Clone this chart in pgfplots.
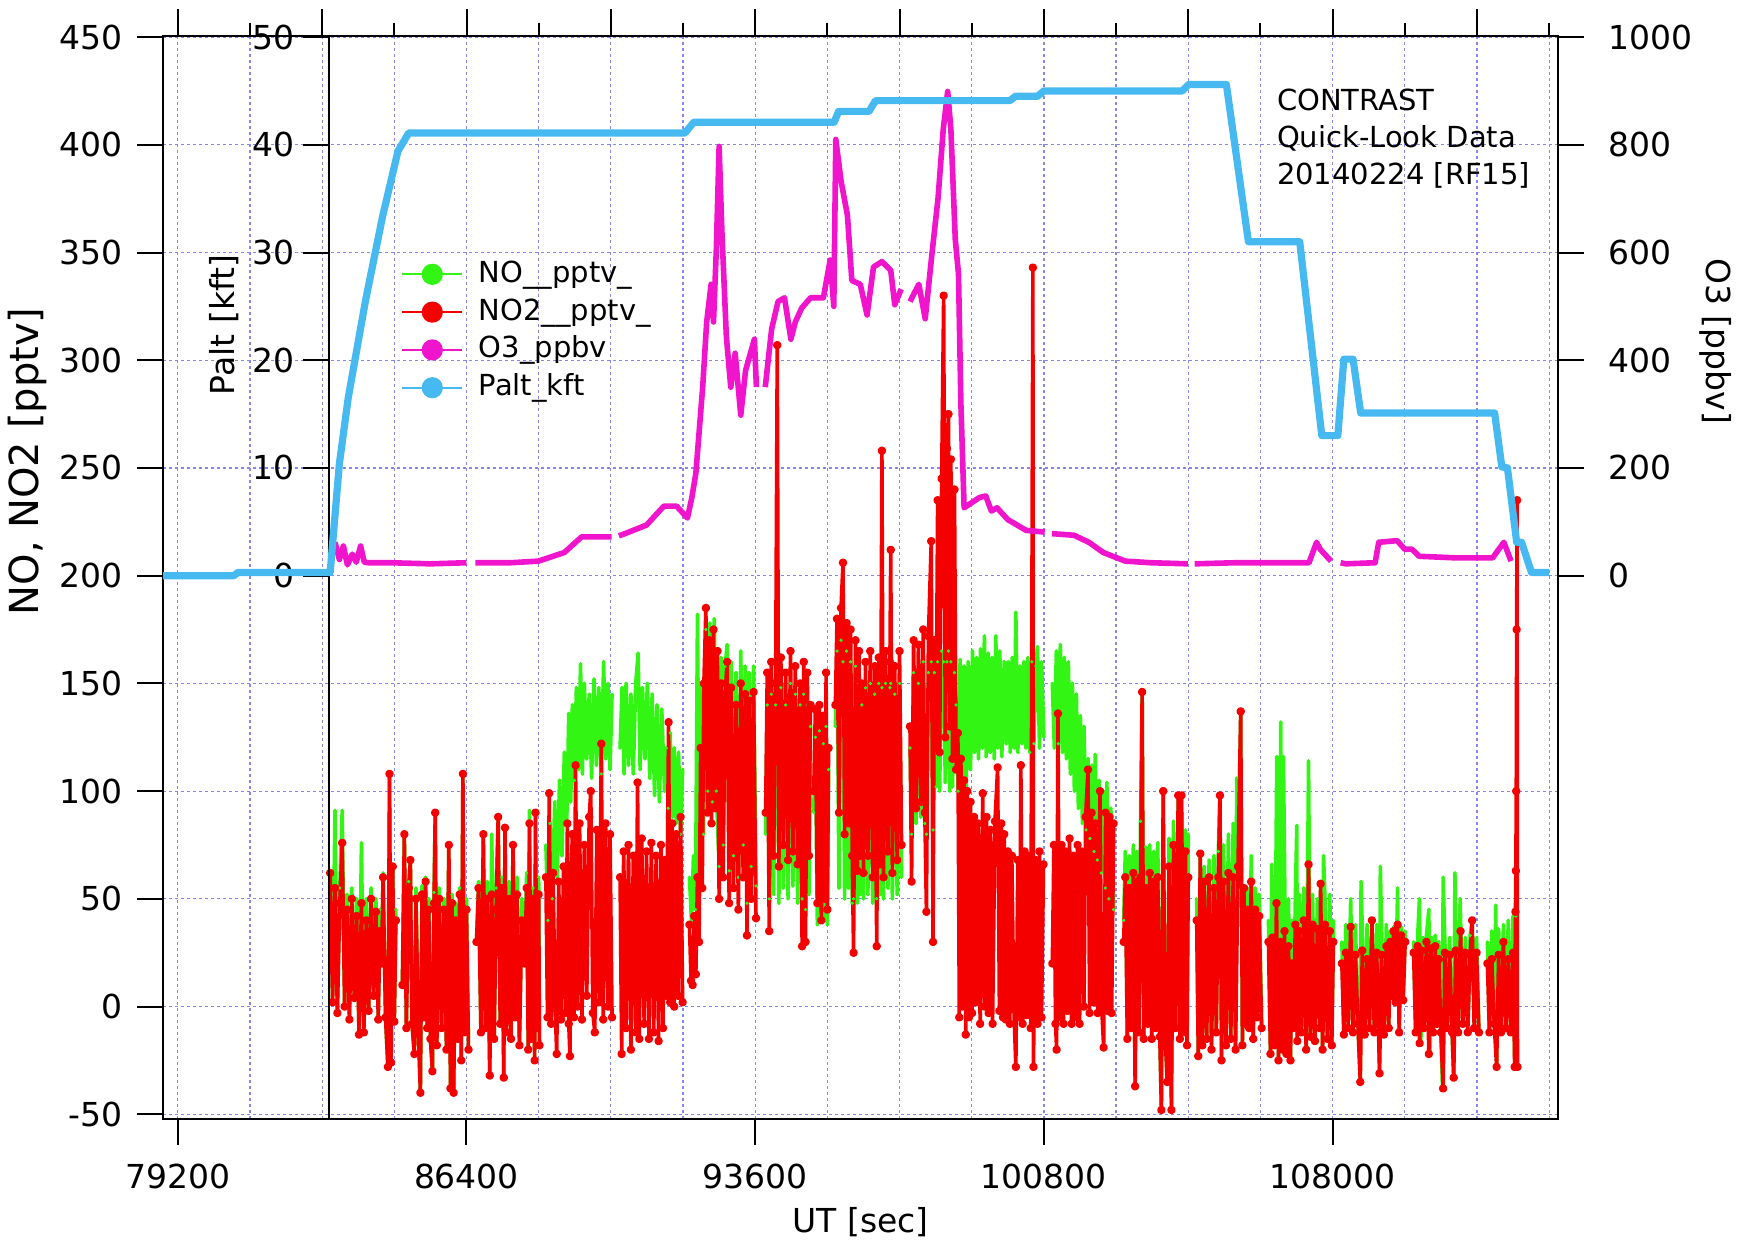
\documentclass[border=0pt]{standalone}
\usepackage{fontspec}
\setmainfont{DejaVu Sans}
\usepackage{pgfplots}
\pgfplotsset{compat=1.18}

\definecolor{nogreen}{RGB}{50,245,20}
\definecolor{notwored}{RGB}{245,0,0}
\definecolor{othree}{RGB}{240,20,205}
\definecolor{paltblue}{RGB}{70,185,240}
\definecolor{gridc}{RGB}{135,135,235}

\pgfplotsset{
  mybase/.style={
    scale only axis, width=697.5pt, height=541.3pt,
    xmin=78836, xmax=113626,
    scaled x ticks=false, scaled y ticks=false,
    tick align=outside,
    major tick length=13pt,
    tick style={black, line width=1pt},
    axis line style={black, line width=1pt},
    tick label style={font=\fontsize{16.5}{19}\selectfont},
    label style={font=\fontsize{16.5}{19}\selectfont},
    unbounded coords=jump,
  },
  dense/.style={line width=1.8pt, line join=round, mark=*, mark size=1.2pt},
  densegreen/.style={line width=1.8pt, line join=round, mark=*, mark size=0.7pt, mark options={line width=0.3pt}},
}

\begin{document}
\begin{tikzpicture}
% ---------- grid and top ticks ----------
\begin{axis}[mybase, name=G, ymin=-52, ymax=450.5,
  xtick={79200,82800,86400,90000,93600,97200,100800,104400,108000,111600},
  minor xtick={81000,84600,88200,91800,95400,99000,102600,106200,109800,113400},
  xtick pos=right, xticklabels={},
  xticklabel style={inner sep=0pt, outer sep=0pt},
  ytick={-50,0,50,100,150,200,250,300,350,400,450}, yticklabels={},
  yticklabel style={inner sep=0pt, outer sep=0pt},
  ytick style={draw=none},
  major tick length=13.3pt, minor tick length=6.7pt,
  grid=both,
  major grid style={gridc, line width=0.6pt, dash pattern=on 1.2pt off 1.8pt},
  minor grid style={gridc, line width=0.6pt, dash pattern=on 1.2pt off 1.8pt},
]
\addplot[draw=none, forget plot] coordinates {(80000,0)};
\end{axis}

% ---------- NO / NO2 (left axis) ----------
\begin{axis}[mybase, name=M, ymin=-52, ymax=450.5,
  xtick={79200,86400,93600,100800,108000},
  xticklabels={79200,86400,93600,100800,108000},
  xtick pos=left,
  ytick={-50,0,50,100,150,200,250,300,350,400,450},
  yticklabels={-50,0,50,100,150,200,250,300,350,400,450},
  ytick pos=left,
  xlabel={UT [sec]}, ylabel={NO, NO2 [pptv]},
  xlabel style={at={(axis description cs:0.5,-0.0953)}, anchor=center},
  ylabel style={at={(axis description cs:-0.0971,0.607)}, anchor=center, font=\fontsize{20}{24}\selectfont},
  xticklabel style={anchor=north, inner sep=0pt, yshift=-9.55pt},
  yticklabel style={anchor=east, inner sep=0pt, xshift=-7.15pt},
]
\addplot[nogreen, densegreen] table[header=false] {
83000 62
83060 2
83120 91
83180 -3
83240 55
83300 91
83360 0
83420 52
83480 -6
83540 55
83600 4
83660 50
83720 -13
83780 76
83840 -12
83900 50
83960 -2
84020 55
84080 5
84140 50
84200 -6
84240 45
84280 20
84320 62
84380 -5
84440 -28
84480 108
84520 -26
84560 65
84600 -7
84640 45
84700 nan
84800 10
84850 80
84900 -10
84960 58
85000 68
85040 -8
85100 -22
85140 55
85200 -12
85250 -40
85290 56
85340 -5
85380 60
85420 -10
85460 50
85500 -15
85550 -30
85590 53
85620 90
85660 -18
85720 55
85780 -10
85840 50
85900 -20
85960 75
86000 -38
86040 52
86080 -40
86130 48
86180 -15
86230 55
86270 -25
86310 108
86350 -12
86400 50
86450 -20
86550 nan
86650 30
86700 58
86760 -12
86820 80
86870 -10
86920 58
86980 -32
87030 80
87090 -15
87140 55
87190 88
87240 -8
87280 60
87330 -33
87360 83
87400 -12
87460 58
87510 -15
87560 75
87610 -5
87660 60
87720 -18
87780 50
87850 20
87900 62
87940 -20
87970 91
88010 -15
88060 55
88100 -25
88120 90
88160 -10
88200 60
88220 -18
88300 nan
88380 75
88430 40
88480 85
88540 50
88600 95
88660 60
88720 105
88780 70
88840 118
88900 85
88950 136
89000 95
89040 140
89090 105
89140 148
89190 110
89244 159
89290 108
89340 150
89400 115
89460 145
89520 106
89580 152
89640 112
89700 148
89760 108
89820 160
89870 115
89930 150
89980 110
90030 145
90100 nan
90230 120
90280 148
90330 108
90380 150
90440 112
90500 145
90560 108
90620 150
90680 164
90730 110
90790 148
90850 115
90910 150
90970 106
91030 145
91090 98
91150 140
91210 95
91270 138
91340 100
91380 120
91430 92
91480 127
91530 88
91580 120
91630 85
91690 118
91740 80
91790 110
91850 nan
91960 60
92010 40
92060 70
92110 45
92160 182
92210 60
92260 150
92310 80
92370 175
92420 100
92470 178
92530 95
92580 180
92630 100
92700 65
92750 162
92800 75
92850 158
92900 168
92950 63
93000 160
93060 70
93120 155
93180 60
93240 165
93300 75
93350 158
93395 48
93450 155
93500 65
93560 158
93620 56
93700 nan
93860 80
93900 140
93950 50
94000 145
94060 52
94110 140
94150 150
94190 48
94240 148
94300 55
94360 140
94420 50
94480 150
94540 56
94600 145
94660 48
94720 140
94770 50
94810 145
94855 45
94900 140
94940 52
94980 130
95020 nan
95060 90
95100 125
95150 38
95200 128
95250 40
95300 122
95340 40
95368 130
95400 38
95430 110
95500 nan
95600 130
95640 165
95690 55
95740 170
95790 160
95830 50
95880 165
95930 55
95980 160
96020 48
96053 50
96100 158
96150 48
96190 150
96220 52
96260 140
96300 50
96350 148
96410 52
96470 150
96530 48
96580 145
96630 50
96680 150
96720 52
96760 148
96800 50
96850 150
96910 55
96960 148
96980 150
97020 50
97080 145
97140 52
97200 150
97250 60
97350 nan
97460 120
97500 80
97550 155
97610 85
97670 150
97730 88
97790 160
97830 85
97870 80
97920 155
97990 160
98035 82
98070 155
98110 102
98150 160
98200 100
98250 165
98300 160
98340 104
98380 160
98420 165
98450 100
98480 160
98520 102
98570 155
98610 140
98660 100
98710 161
98760 105
98810 158
98860 100
98910 160
98970 110
99020 165
99070 118
99120 162
99170 115
99220 166
99270 120
99316 172
99360 116
99410 164
99460 118
99510 162
99560 115
99600 172
99650 120
99700 165
99750 116
99810 160
99860 122
99910 160
99960 118
100010 162
100060 120
100100 183
100150 118
100200 158
100250 122
100300 160
100350 120
100400 162
100450 118
100500 160
100550 122
100600 158
100640 167
100690 120
100740 160
100800 125
100900 nan
101010 150
101060 120
101110 165
101160 122
101210 168
101260 118
101310 162
101360 115
101410 160
101460 108
101510 150
101560 100
101610 145
101660 92
101710 135
101760 85
101800 130
101850 82
101900 115
101950 78
102000 112
102050 72
102080 117
102130 68
102180 105
102230 62
102280 100
102330 55
102370 104
102420 50
102470 92
102540 45
102650 nan
102790 40
102830 72
102880 -15
102930 70
102980 -10
103030 75
103075 -37
103120 72
103170 -12
103210 86
103250 146
103290 -15
103340 74
103390 -8
103440 75
103490 -15
103540 72
103590 -10
103640 76
103690 -14
103730 -48
103775 100
103820 -12
103875 -35
103920 78
103980 -48
104030 86
104080 -10
104150 98
104190 -15
104233 98
104280 -12
104330 82
104370 -18
104400 80
104500 nan
104610 50
104650 -23
104700 71
104750 -18
104800 65
104860 -15
104920 68
104980 -20
105040 70
105100 -12
105150 72
105190 98
105230 -25
105280 75
105340 -18
105400 80
105460 -15
105520 85
105580 -20
105608 106
105640 65
105708 137
105750 -18
105790 55
105820 -8
105870 55
105920 -10
105970 70
106020 -15
106070 55
106120 -5
106170 52
106230 -10
106300 nan
106400 40
106450 -22
106483 66
106550 -18
106608 116
106650 -25
106707 132
106750 -20
106774 116
106850 -22
106900 50
106950 -25
106980 40
107020 -10
107070 50
107107 84
107120 -16
107170 52
107220 -12
107280 55
107340 -20
107400 114
107450 -14
107500 52
107560 -16
107620 50
107680 -10
107700 57
107750 -20
107774 70
107810 50
107870 -15
107930 52
107980 -18
108020 40
108100 nan
108230 30
108280 -13
108330 38
108390 -10
108450 50
108510 -12
108570 38
108630 -8
108690 -35
108710 58
108740 36
108800 -13
108860 38
108920 -10
108980 40
109040 -12
109100 38
109170 -31
109190 65
109220 38
109280 -13
109340 38
109400 -10
109440 35
109480 5
109520 37
109570 2
109620 55
109660 -12
109710 37
109760 3
109810 35
109900 nan
110020 30
110070 -12
110120 32
110165 50
110200 -17
110250 32
110280 -10
110340 33
110400 45
110430 -22
110470 32
110510 -12
110560 33
110600 -8
110650 30
110700 -12
110740 -38
110756 60
110800 30
110860 -10
110920 32
110980 -12
111020 -33
111050 62
111080 30
111130 -12
111180 50
111250 -8
111310 32
111370 -12
111430 33
111480 40
111530 -10
111590 32
111650 -12
111750 nan
111860 30
111910 -12
111970 35
112030 -8
112070 47
112090 -28
112140 36
112200 -12
112260 38
112320 -10
112380 40
112440 -12
112500 42
112540 -28
112570 42
};
\addplot[notwored, dense] table[header=false] {
83000 62
83060 2
83120 55
83180 -3
83240 48
83300 76
83360 0
83420 45
83480 -6
83540 50
83600 4
83660 42
83720 -13
83780 48
83840 -12
83900 40
83960 -2
84020 50
84080 5
84140 44
84200 -6
84240 35
84280 20
84320 60
84380 -5
84440 -28
84480 108
84520 -26
84560 65
84600 -7
84640 40
84700 nan
84800 10
84850 80
84900 -10
84960 55
85000 68
85040 -8
85100 -22
85140 50
85200 -12
85250 -40
85290 52
85340 -5
85380 58
85420 -10
85460 45
85500 -15
85550 -30
85590 48
85620 90
85660 -18
85720 50
85780 -10
85840 45
85900 -20
85960 75
86000 -38
86040 48
86080 -40
86130 40
86180 -15
86230 52
86270 -25
86310 108
86350 -12
86400 45
86450 -20
86550 nan
86650 30
86700 55
86760 -12
86820 80
86870 -10
86920 50
86980 -32
87030 52
87090 -15
87140 45
87190 88
87240 -8
87280 55
87330 -33
87360 83
87400 -12
87460 50
87510 -15
87560 75
87610 -5
87660 52
87720 -18
87780 40
87850 20
87900 55
87940 -20
87970 85
88010 -15
88060 50
88100 -25
88120 90
88160 -10
88200 52
88220 -18
88300 nan
88380 60
88420 -5
88463 99
88510 -8
88560 62
88610 0
88650 -22
88700 58
88760 -6
88820 65
88870 -3
88916 85
88950 -8
88980 -23
89000 55
89040 80
89080 -5
89120 112
89170 0
89220 85
89280 -6
89340 75
89400 5
89460 88
89500 100
89550 -3
89600 -12
89650 82
89710 2
89762 122
89810 -6
89870 85
89930 0
89980 80
90030 -5
90100 nan
90230 60
90270 -22
90320 72
90380 -10
90440 75
90500 -20
90560 70
90620 -12
90666 104
90710 -15
90770 78
90830 -8
90890 72
90950 -15
91010 76
91070 -12
91130 70
91190 -16
91250 75
91300 -10
91340 68
91380 5
91440 132
91480 2
91530 85
91580 0
91630 80
91680 5
91740 88
91790 2
91850 nan
91960 38
92000 12
92040 10
92080 42
92120 15
92160 60
92200 30
92240 120
92280 55
92320 150
92370 185
92410 90
92460 170
92510 85
92560 175
92610 92
92660 165
92700 50
92750 150
92800 60
92850 145
92900 160
92950 48
93000 148
93060 55
93120 140
93180 45
93240 150
93300 60
93350 145
93395 33
93450 142
93500 50
93560 146
93620 41
93700 nan
93860 90
93900 155
93950 35
94000 160
94060 70
94110 150
94150 307
94190 65
94240 162
94300 75
94360 155
94420 68
94480 165
94540 72
94600 158
94660 66
94720 150
94770 28
94810 160
94855 30
94900 155
94940 70
94980 140
95020 nan
95060 100
95100 138
95150 48
95200 140
95250 40
95300 135
95340 50
95368 155
95400 45
95430 120
95500 nan
95600 140
95640 180
95690 90
95740 185
95790 206
95830 80
95880 178
95930 85
95980 175
96020 70
96053 25
96100 170
96150 63
96190 165
96220 70
96260 150
96300 62
96350 160
96410 70
96470 165
96530 60
96580 158
96630 28
96680 162
96720 66
96760 258
96800 60
96850 165
96910 72
96960 160
96980 212
97020 62
97080 158
97140 68
97200 165
97250 75
97350 nan
97460 130
97500 58
97550 170
97610 92
97670 168
97730 95
97790 175
97830 90
97870 44
97920 172
97990 216
98035 30
98070 170
98110 120
98150 235
98200 118
98250 245
98300 330
98340 125
98380 259
98420 275
98450 130
98480 254
98520 115
98570 240
98610 110
98655 127
98690 -5
98730 115
98770 0
98810 105
98850 -13
98890 100
98930 -5
98970 95
99010 -3
99060 88
99110 2
99160 85
99210 -8
99275 99
99320 0
99370 88
99420 -3
99470 82
99520 -8
99580 86
99646 111
99690 -2
99740 85
99780 -5
99810 80
99850 -6
99900 72
99950 -8
100000 70
100050 0
100100 -28
100150 68
100190 -5
100225 112
100270 -8
100320 72
100370 -4
100420 70
100470 -10
100525 343
100540 -28
100590 68
100640 -8
100690 72
100740 -5
100790 66
100900 nan
101010 20
101050 75
101090 -8
101117 -20
101150 136
101190 -5
101240 75
101290 -8
101340 72
101390 -2
101440 78
101490 -8
101540 70
101590 -5
101640 75
101690 -8
101740 72
101800 0
101840 88
101900 110
101940 -3
101990 90
102040 2
102090 85
102140 -3
102200 100
102240 0
102290 -19
102340 90
102390 -2
102440 88
102490 -3
102540 85
102650 nan
102790 30
102830 60
102880 -15
102930 55
102980 -10
103030 62
103075 -37
103120 58
103170 -12
103210 60
103250 146
103290 -15
103340 55
103390 -8
103440 62
103490 -15
103540 58
103590 -10
103640 60
103690 -14
103730 -48
103775 100
103820 -12
103875 -35
103920 65
103980 -48
104030 75
104080 -10
104150 98
104190 -15
104233 98
104280 -12
104330 72
104370 -18
104400 60
104500 nan
104610 40
104650 -23
104700 71
104750 -18
104800 58
104860 -15
104920 60
104980 -20
105040 55
105100 -12
105150 60
105190 98
105230 -25
105280 58
105340 -18
105400 62
105460 -15
105520 60
105580 -20
105640 65
105708 137
105750 -18
105790 55
105820 -8
105870 45
105920 -10
105970 58
106020 -15
106070 45
106120 -5
106170 42
106230 -10
106300 nan
106400 30
106450 -22
106500 32
106550 -18
106600 48
106650 -25
106700 30
106750 -20
106800 35
106850 -22
106900 28
106950 -25
106980 20
107020 -10
107070 38
107120 -16
107170 35
107220 -12
107280 40
107340 -20
107400 66
107450 -14
107500 38
107560 -16
107620 36
107680 -10
107700 57
107750 -20
107810 38
107870 -15
107930 35
107980 -18
108020 30
108100 nan
108230 20
108280 -13
108330 25
108390 -10
108450 37
108510 -12
108570 24
108630 -8
108690 -35
108740 26
108800 -13
108860 22
108920 -10
108980 40
109040 -12
109100 25
109170 -31
109220 24
109280 -13
109340 28
109400 -10
109440 30
109480 5
109520 35
109570 2
109620 38
109660 -12
109710 33
109760 3
109810 30
109900 nan
110020 25
110070 -12
110120 28
110170 -17
110220 26
110280 -10
110340 30
110400 -22
110450 27
110510 -12
110560 28
110600 -8
110650 22
110700 -12
110756 -38
110800 25
110860 -10
110920 24
110980 -12
111020 -33
111070 26
111130 -12
111190 35
111250 -8
111310 25
111370 -12
111430 24
111480 40
111530 -10
111590 25
111650 -12
111750 nan
111860 20
111910 -12
111970 22
112030 -8
112090 -28
112140 24
112200 -12
112260 30
112320 -10
112380 22
112440 -12
112500 25
112540 -28
112560 44
112570 63
112580 100
112590 175
112600 235
112610 -28
};
\node[anchor=base west, font=\fontsize{14.5}{17}\selectfont] at (rel axis cs:0.7934,0.9313) {CONTRAST};
\node[anchor=base west, font=\fontsize{14.5}{17}\selectfont] at (rel axis cs:0.7934,0.8966) {Quick-Look Data};
\node[anchor=base west, font=\fontsize{14.5}{17}\selectfont] at (rel axis cs:0.7934,0.8624) {20140224 [RF15]};
\end{axis}

% ---------- O3 (right axis) ----------
\begin{axis}[mybase, ymin=-1008, ymax=1002,
  axis x line=none, axis y line*=right,
  ytick={0,200,400,600,800,1000}, yticklabels={0,200,400,600,800,1000},
  ylabel={O3 [ppbv]},
  ylabel style={at={(axis description cs:1.113,0.718)}, anchor=center, rotate=180},
  yticklabel style={anchor=west, inner sep=0pt, xshift=11.8pt},
]
\addplot[othree, line width=2.8pt, line join=round] table[header=false] {
83120 62
83230 30
83330 55
83430 20
83550 40
83650 25
83760 55
83850 25
83950 24
84500 24
85500 22
86400 24
86500 nan
86620 24
87500 24
88190 27
88840 43
89270 72
90020 72
90100 nan
90200 74
90350 78
90890 94
91320 129
91640 129
91910 107
92020 145
92120 190
92290 350
92390 471
92500 541
92560 471
92630 605
92700 797
92770 637
92880 445
92990 350
93100 413
93240 298
93360 381
93580 439
93630 350
93700 nan
93850 350
94010 458
94170 509
94330 516
94490 439
94600 471
94760 497
94980 516
95300 516
95470 586
95560 500
95610 810
95740 733
95900 669
96010 548
96220 541
96390 484
96550 573
96760 583
96980 567
97080 503
97240 532
97350 nan
97460 509
97680 541
97840 477
98000 592
98160 701
98290 829
98400 899
98480 829
98590 624
98670 560
98730 318
98810 126
99190 145
99350 148
99490 120
99630 126
99900 104
100360 84
100820 81
100900 nan
101000 78
101550 75
101920 62
102280 43
102830 27
103470 24
104390 22
104450 nan
104560 22
105580 24
107410 24
107600 62
107690 49
107960 27
108050 nan
108200 24
108330 22
109060 24
109150 62
109610 65
109800 49
109980 49
110160 36
111080 33
111990 33
112270 62
112450 27
};
\end{axis}

% ---------- Palt axis line (inside the plot) ----------
\begin{axis}[mybase, width=614.4pt, xmin=82979, xmax=113626,
  at={(M.south east)}, anchor=south east,
  ymin=-50.4, ymax=50.1,
  axis x line=none, axis y line*=left,
  ytick={0,10,20,30,40,50}, yticklabels={0,10,20,30,40,50},
  ylabel={Palt [kft]},
  ylabel style={at={(axis description cs:-0.0858,0.733)}, anchor=center},
  yticklabel style={anchor=east, inner sep=0pt, xshift=-4.1pt},
]
\addplot[draw=none, forget plot] coordinates {(90000,0)};
\end{axis}

% ---------- Palt data + legend ----------
\begin{axis}[mybase, hide axis, ymin=-50.4, ymax=50.1,
  legend style={at={(axis description cs:0.1704,0.795)}, anchor=north west,
    draw=none, fill=none, inner sep=0pt, row sep=2.9pt, column sep=7.8pt,
    font=\fontsize{14.5}{17}\selectfont,
    nodes={inner sep=0pt, text height=12pt, text depth=4pt}},
  legend cell align=left,
  legend image code/.code={\draw[mark repeat=2, mark phase=2] plot coordinates {(0pt,0pt) (15pt,0pt) (30pt,0pt)};},
]
\addplot[paltblue, line width=3.6pt, line join=round, forget plot] table[header=false] {
78836 0
80600 0
80700 0.3
83000 0.3
83230 10.4
83450 16.5
83880 25.5
84310 33.4
84690 39.4
84960 41.1
91850 41.1
92070 42.1
95570 42.1
95680 43.1
96440 43.1
96600 44.1
99950 44.1
100090 44.5
100640 44.5
100800 45.0
104250 45.0
104410 45.6
105350 45.6
105900 31.0
107180 31.0
107730 13.0
108130 13.0
108280 20.1
108510 20.1
108700 15.1
112040 15.1
112220 10.1
112360 10.0
112590 3.1
112710 3.1
112960 0.3
113400 0.3
};
\addlegendimage{nogreen, line width=1pt, mark=*, mark size=4.8pt}
\addlegendentry{NO\_\_pptv\_}
\addlegendimage{notwored, line width=1pt, mark=*, mark size=4.8pt}
\addlegendentry{NO2\_\_pptv\_}
\addlegendimage{othree, line width=1pt, mark=*, mark size=4.8pt}
\addlegendentry{O3\_ppbv}
\addlegendimage{paltblue, line width=1pt, mark=*, mark size=4.8pt}
\addlegendentry{Palt\_kft}
\end{axis}

\pgfresetboundingbox
\path[use as bounding box] (M.south west) ++(-81.6pt,-63.2pt) rectangle ++(870.5pt,622.5pt);
\end{tikzpicture}
\end{document}
